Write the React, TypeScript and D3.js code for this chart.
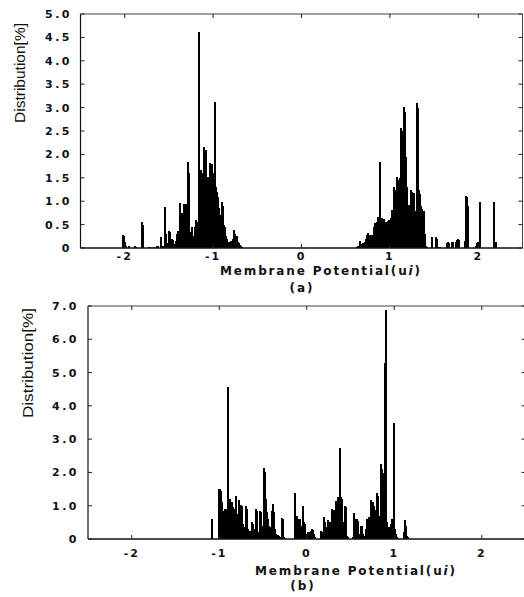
import React from "react";
import * as d3 from "d3";

// ---------- Data (membrane potential ui, distribution %) ----------
const xTickValues = [-2, -1, 0, 1, 2];
const xTickLabels = ["-2", "-1", "0", "1", "2"];

const topYTickValues = [0, 0.5, 1, 1.5, 2, 2.5, 3, 3.5, 4, 4.5, 5];
const topYTickLabels = ["0", "0.5", "1.0", "1.5", "2.0", "2.5", "3.0", "3.5", "4.0", "4.5", "5.0"];

const bottomYTickValues = [0, 1, 2, 3, 4, 5, 6, 7];
const bottomYTickLabels = ["0", "1.0", "2.0", "3.0", "4.0", "5.0", "6.0", "7.0"];

// (a) negative cluster
const topNegative: [number, number][] = [
  [-2.02, 0.28], [-2.01, 0.25], [-2.0, 0.12], [-1.98, 0.05], [-1.95, 0.04], [-1.88, 0.05], [-1.87, 0.03],
  [-1.8, 0.55], [-1.79, 0.5], [-1.73, 0.02], [-1.71, 0.03], [-1.67, 0.03], [-1.64, 0.04], [-1.62, 0.05],
  [-1.59, 0.23], [-1.57, 0.05], [-1.54, 0.87], [-1.53, 0.3], [-1.51, 0.1], [-1.5, 0.37], [-1.49, 0.35],
  [-1.48, 0.1], [-1.47, 0.08], [-1.46, 0.2], [-1.45, 0.18], [-1.44, 0.08], [-1.42, 0.15], [-1.41, 0.3],
  [-1.4, 0.37], [-1.39, 0.35], [-1.38, 0.38], [-1.37, 0.97], [-1.36, 0.4], [-1.35, 0.75], [-1.33, 0.95],
  [-1.32, 0.6], [-1.31, 0.93], [-1.3, 0.5], [-1.29, 0.3], [-1.28, 1.84], [-1.27, 1.6], [-1.25, 0.35],
  [-1.24, 0.45], [-1.23, 0.25], [-1.22, 0.2], [-1.21, 0.3], [-1.2, 0.45], [-1.19, 0.6], [-1.17, 0.55],
  [-1.16, 4.62], [-1.15, 1.6], [-1.14, 1.67], [-1.13, 1.5], [-1.12, 0.5], [-1.11, 1.6], [-1.1, 2.16],
  [-1.08, 2.1], [-1.07, 0.6], [-1.06, 1.52], [-1.05, 1.45], [-1.04, 1.7], [-1.03, 1.81], [-1.02, 1.75],
  [-1.01, 1.8], [-0.99, 1.6], [-0.98, 3.13], [-0.97, 1.31], [-0.96, 1.2], [-0.95, 0.6], [-0.94, 1.1],
  [-0.93, 0.85], [-0.92, 0.7], [-0.9, 0.99], [-0.89, 0.9], [-0.88, 0.5], [-0.87, 0.45], [-0.86, 0.3],
  [-0.85, 0.25], [-0.84, 0.2], [-0.82, 0.13], [-0.81, 0.05], [-0.8, 0.15], [-0.79, 0.13], [-0.78, 0.17],
  [-0.77, 0.2], [-0.76, 0.38], [-0.75, 0.3], [-0.73, 0.25], [-0.72, 0.12], [-0.71, 0.1], [-0.7, 0.06],
  [-0.69, 0.05], [-0.67, 0.03],
];

// (a) positive cluster
const topPositive: [number, number][] = [
  [0.633, 0.03], [0.644, 0.04], [0.655, 0.03], [0.667, 0.15], [0.678, 0.08], [0.689, 0.05], [0.701, 0.1],
  [0.712, 0.08], [0.723, 0.12], [0.734, 0.2], [0.746, 0.28], [0.757, 0.31], [0.768, 0.25], [0.78, 0.28],
  [0.791, 0.22], [0.802, 0.27], [0.814, 0.15], [0.825, 0.45], [0.836, 0.53], [0.847, 0.5], [0.859, 0.55],
  [0.87, 0.67], [0.881, 0.6], [0.892, 1.84], [0.904, 0.65], [0.915, 0.64], [0.927, 0.5], [0.938, 0.62],
  [0.949, 0.55], [0.96, 0.45], [0.972, 0.55], [0.983, 0.58], [0.994, 0.6], [1.006, 0.5], [1.017, 0.65],
  [1.028, 0.81], [1.04, 0.7], [1.051, 1.31], [1.062, 1.25], [1.073, 0.75], [1.085, 1.52], [1.096, 1.45],
  [1.107, 0.8], [1.119, 1.5], [1.13, 2.56], [1.141, 2.5], [1.153, 1.7], [1.164, 3.02], [1.175, 2.9],
  [1.186, 1.95], [1.198, 1.31], [1.209, 0.9], [1.22, 0.92], [1.232, 0.84], [1.243, 1.24], [1.254, 1.2],
  [1.266, 0.6], [1.277, 1.18], [1.288, 0.8], [1.299, 0.74], [1.311, 3.09], [1.322, 3.0], [1.333, 1.24],
  [1.345, 1.16], [1.356, 0.9], [1.367, 0.84], [1.378, 0.75], [1.39, 0.8], [1.401, 0.3], [1.412, 0.05],
  [1.424, 0.03], [1.475, 0.24], [1.48, 0.22], [1.525, 0.23], [1.537, 0.2], [1.55, 0.03], [1.57, 0.02],
  [1.65, 0.1], [1.66, 0.12], [1.67, 0.1], [1.706, 0.13], [1.718, 0.12], [1.75, 0.12], [1.763, 0.18],
  [1.774, 0.2], [1.785, 0.17], [1.853, 0.15], [1.864, 1.11], [1.876, 1.1], [1.887, 0.9], [1.977, 0.05],
  [1.989, 0.1], [2.0, 0.12], [2.017, 0.99], [2.173, 0.99], [2.186, 0.13], [2.198, 0.12],
];

// (b)
const bottomSeries: [number, number][] = [
  [-1.082, 0.61], [-1.008, 1.49], [-0.997, 1.49], [-0.985, 1.45], [-0.974, 1.1], [-0.962, 0.85],
  [-0.951, 0.75], [-0.94, 0.9], [-0.928, 0.91], [-0.917, 0.8], [-0.899, 4.57], [-0.888, 0.85],
  [-0.877, 1.2], [-0.865, 1.06], [-0.854, 1.1], [-0.842, 0.95], [-0.831, 0.9], [-0.819, 0.5],
  [-0.808, 1.28], [-0.797, 0.76], [-0.785, 0.7], [-0.774, 1.16], [-0.762, 0.45], [-0.751, 1.01],
  [-0.739, 1.0], [-0.728, 0.45], [-0.717, 0.3], [-0.705, 0.35], [-0.694, 1.0], [-0.682, 0.9],
  [-0.671, 0.3], [-0.659, 0.2], [-0.648, 0.25], [-0.637, 0.1], [-0.625, 0.5], [-0.614, 0.45],
  [-0.602, 0.2], [-0.591, 0.3], [-0.579, 0.9], [-0.568, 0.85], [-0.557, 0.2], [-0.545, 0.15],
  [-0.534, 0.85], [-0.522, 0.8], [-0.511, 0.4], [-0.499, 0.35], [-0.488, 2.12], [-0.477, 2.0],
  [-0.465, 1.2], [-0.454, 0.8], [-0.442, 0.6], [-0.431, 0.4], [-0.419, 0.35], [-0.408, 0.3],
  [-0.397, 0.85], [-0.385, 1.06], [-0.374, 0.8], [-0.362, 0.3], [-0.351, 0.15], [-0.339, 0.1],
  [-0.328, 0.12], [-0.317, 0.08], [-0.305, 0.05], [-0.282, 0.63], [-0.271, 0.6], [-0.259, 0.05],
  [-0.248, 0.03], [-0.134, 1.38], [-0.122, 0.66], [-0.111, 0.7], [-0.099, 0.6], [-0.088, 0.5],
  [-0.077, 0.6], [-0.065, 0.4], [-0.054, 0.3], [-0.042, 0.99], [-0.031, 0.5], [-0.019, 0.45],
  [-0.008, 0.15], [0.003, 0.1], [0.015, 0.2], [0.026, 0.2], [0.038, 0.15], [0.049, 0.25], [0.061, 0.3],
  [0.072, 0.28], [0.083, 0.15], [0.095, 0.05], [0.163, 0.25], [0.175, 0.2], [0.186, 0.15], [0.198, 0.66],
  [0.209, 0.5], [0.221, 0.36], [0.232, 0.25], [0.243, 0.56], [0.255, 0.5], [0.266, 0.45], [0.278, 0.5],
  [0.289, 0.91], [0.301, 0.85], [0.312, 0.86], [0.323, 0.6], [0.335, 1.14], [0.346, 0.9], [0.358, 1.26],
  [0.369, 1.2], [0.381, 2.72], [0.392, 1.26], [0.403, 1.2], [0.415, 0.5], [0.426, 0.2], [0.438, 1.0],
  [0.449, 0.95], [0.461, 0.1], [0.472, 0.05], [0.529, 0.05], [0.541, 0.79], [0.552, 0.6], [0.563, 0.55],
  [0.575, 0.6], [0.586, 0.55], [0.598, 0.15], [0.609, 0.1], [0.621, 0.4], [0.632, 0.4], [0.643, 0.15],
  [0.655, 0.1], [0.666, 0.1], [0.678, 0.3], [0.689, 0.6], [0.701, 0.55], [0.712, 0.66], [0.723, 0.6],
  [0.735, 1.16], [0.746, 1.1], [0.758, 1.1], [0.769, 1.0], [0.781, 0.86], [0.792, 0.8], [0.803, 1.38],
  [0.815, 1.3], [0.826, 0.7], [0.838, 0.5], [0.849, 2.25], [0.86, 2.1], [0.872, 1.87], [0.883, 1.98],
  [0.895, 5.28], [0.906, 6.88], [0.918, 0.5], [0.929, 0.2], [0.94, 0.35], [0.952, 0.3], [0.963, 0.46],
  [0.975, 0.6], [0.986, 0.46], [0.998, 3.49], [1.009, 0.3], [1.021, 0.15], [1.032, 0.05], [1.043, 0.03],
  [1.112, 0.2], [1.123, 0.58], [1.135, 0.4], [1.146, 0.1], [1.157, 0.05],
];

const xAxisTitle = "Membrane Potential(u";
const xAxisTitleItalic = "i";
const yAxisTitle = "Distribution[%]";

const TICK_FONT = "'DejaVu Sans', sans-serif";
const TITLE_FONT = "'Liberation Sans', Arial, sans-serif";

type PanelProps = {
  data: [number, number][];
  yMax: number;
  yTicks: number[];
  yLabels: string[];
  x0: number; x1: number; yTop: number; yBot: number;
  yLabelRight: number;
  distCx: number; distCy: number; distLen: number;
  tickBase: number;
  titleX: number; titleBase: number;
  caption: string; capBase: number; capX: number;
};

function Panel(p: PanelProps) {
  const x = d3.scaleLinear().domain([-2.5, 2.5]).range([p.x0, p.x1]);
  const y = d3.scaleLinear().domain([0, p.yMax]).range([p.yBot, p.yTop]);
  const tl = 4;
  return (
    <g>
      <g shapeRendering="crispEdges">
        {p.data.map((d, i) => {
          const top = Math.round(y(d[1]));
          return (
            <rect key={i} x={Math.round(x(d[0]) - 1)} y={top} width={2}
              height={Math.max(1, Math.round(p.yBot) - top)} fill="#000" />
          );
        })}
      </g>
      {/* frame */}
      <line x1={p.x0} x2={p.x1} y1={p.yBot} y2={p.yBot} stroke="#111" strokeWidth={1.3} />
      <line x1={p.x0} x2={p.x0} y1={p.yTop} y2={p.yBot} stroke="#111" strokeWidth={1.2} />
      <line x1={p.x0} x2={p.x1} y1={p.yTop} y2={p.yTop} stroke="#444" strokeWidth={1} />
      <line x1={p.x1} x2={p.x1} y1={p.yTop} y2={p.yBot} stroke="#444" strokeWidth={1} />
      {/* x ticks */}
      {xTickValues.map((v, i) => (
        <g key={"xt" + i}>
          <line x1={x(v)} x2={x(v)} y1={p.yTop} y2={p.yTop + tl} stroke="#222" />
          <line x1={x(v)} x2={x(v)} y1={p.yBot} y2={p.yBot - tl} stroke="#222" />
          <text x={x(v)} y={p.tickBase} textAnchor="middle" fontFamily={TICK_FONT} fontWeight="bold"
            fontSize={11} letterSpacing={2} fill="#111">{xTickLabels[i]}</text>
        </g>
      ))}
      {/* y ticks */}
      {p.yTicks.map((v, i) => (
        <g key={"yt" + i}>
          <line x1={p.x1} x2={p.x1 - tl} y1={y(v)} y2={y(v)} stroke="#222" />
          <line x1={p.x0} x2={p.x0 + tl} y1={y(v)} y2={y(v)} stroke="#222" />
          <text x={p.yLabelRight} y={y(v)} dy="0.36em" textAnchor="end" fontFamily={TICK_FONT}
            fontWeight="bold" fontSize={11} letterSpacing={2.5} fill="#111">{p.yLabels[i]}</text>
        </g>
      ))}
      {/* y title */}
      <text transform={`translate(${p.distCx},${p.distCy}) rotate(-90)`} textAnchor="middle" dy="0.35em"
        fontFamily={TITLE_FONT} fontSize={14} fill="#111" textLength={p.distLen} lengthAdjust="spacingAndGlyphs">
        {yAxisTitle}
      </text>
      {/* x title */}
      <text x={p.titleX} y={p.titleBase} fontFamily={TICK_FONT} fontWeight="bold" fontSize={12} fill="#111"
        textLength={200} lengthAdjust="spacing">
        {xAxisTitle}<tspan fontStyle="italic">{xAxisTitleItalic}</tspan>)
      </text>
      <text x={p.capX} y={p.capBase} textAnchor="middle" fontFamily={TICK_FONT} fontWeight="bold" fontSize={12}
        letterSpacing={2} fill="#111">{p.caption}</text>
    </g>
  );
}

export default function App() {
  return (
    <svg width={524} height={597} style={{ position: "absolute", left: 0, top: 0, background: "#fff" }}>
      <rect width={524} height={597} fill="#fff" />
      <Panel
        data={[...topNegative, ...topPositive]}
        yMax={5} yTicks={topYTickValues} yLabels={topYTickLabels}
        x0={80.5} x1={522.5} yTop={14} yBot={248}
        yLabelRight={72}
        distCx={20} distCy={73} distLen={100}
        tickBase={259.5}
        titleX={220} titleBase={275}
        caption="(a)" capX={302} capBase={292}
      />
      <Panel
        data={bottomSeries}
        yMax={7} yTicks={bottomYTickValues} yLabels={bottomYTickLabels}
        x0={88} x1={525.5} yTop={306} yBot={539}
        yLabelRight={79}
        distCx={28} distCy={363} distLen={110}
        tickBase={557}
        titleX={255} titleBase={575}
        caption="(b)" capX={303} capBase={590}
      />
    </svg>
  );
}
